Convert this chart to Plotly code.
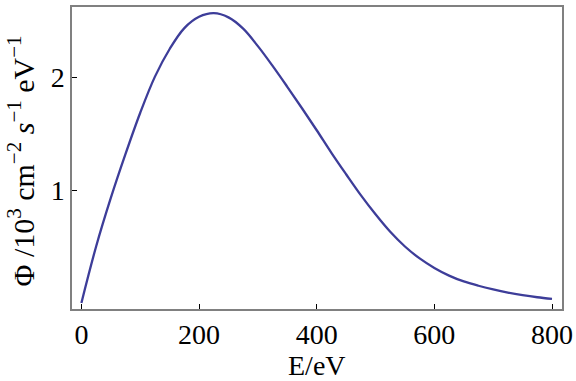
import plotly.graph_objects as go

energy_eV = [0, 25, 50, 75, 100, 125, 150, 175, 200, 225, 250, 275, 300, 325,
             350, 375, 400, 425, 450, 475, 500, 525, 550, 575, 600, 625, 650,
             675, 700, 725, 750, 775, 800]
flux = [0.0, 0.50, 0.93, 1.32, 1.685, 2.005, 2.25, 2.435, 2.535, 2.567, 2.53, 2.43,
        2.275, 2.1, 1.915, 1.725, 1.53, 1.33, 1.14, 0.955, 0.785, 0.63, 0.50, 0.394,
        0.31, 0.242, 0.19, 0.152, 0.12, 0.092, 0.069, 0.05, 0.035]
x_ticks = [0, 200, 400, 600, 800]
y_ticks = [1, 2]
x_title = "E/eV"
y_title = "Φ /10<sup>3</sup> cm<sup>−2</sup> <i>s</i><sup>−1</sup> eV<sup>−1</sup>"

font = dict(family="Liberation Serif, Times New Roman, serif", size=28, color="black")
yfont = dict(family="Liberation Serif, Times New Roman, serif", size=30, color="black")

fig = go.Figure(go.Scatter(x=energy_eV, y=flux, mode="lines",
                           line=dict(color="#3d3d99", width=2.3, shape="spline"),
                           hoverinfo="skip"))

fig.update_layout(
    width=576, height=381,
    margin=dict(l=72, r=14, t=7, b=72),
    paper_bgcolor="white", plot_bgcolor="white",
    showlegend=False, font=font,
)
axis_common = dict(ticks="inside", ticklen=5, tickcolor="black", tickwidth=1,
                   showgrid=False, zeroline=False, showline=True, linecolor="#808080",
                   linewidth=1.5, mirror=True, tickfont=font, automargin=False)
fig.update_xaxes(range=[-16, 817], tickvals=x_ticks, **axis_common)
fig.update_yaxes(range=[-0.054, 2.622], tickvals=y_ticks, **axis_common)

fig.add_annotation(text=x_title, xref="paper", yref="paper", x=0.5, y=-0.186,
                   xanchor="center", yanchor="middle", showarrow=False, font=font)
fig.add_annotation(text=y_title, xref="paper", yref="paper", x=-0.103, y=0.49,
                   xanchor="center", yanchor="middle", textangle=-90,
                   showarrow=False, font=yfont)
fig.write_html("out.html", config={"displayModeBar": False},
               post_script="document.body.style.margin='0';")
